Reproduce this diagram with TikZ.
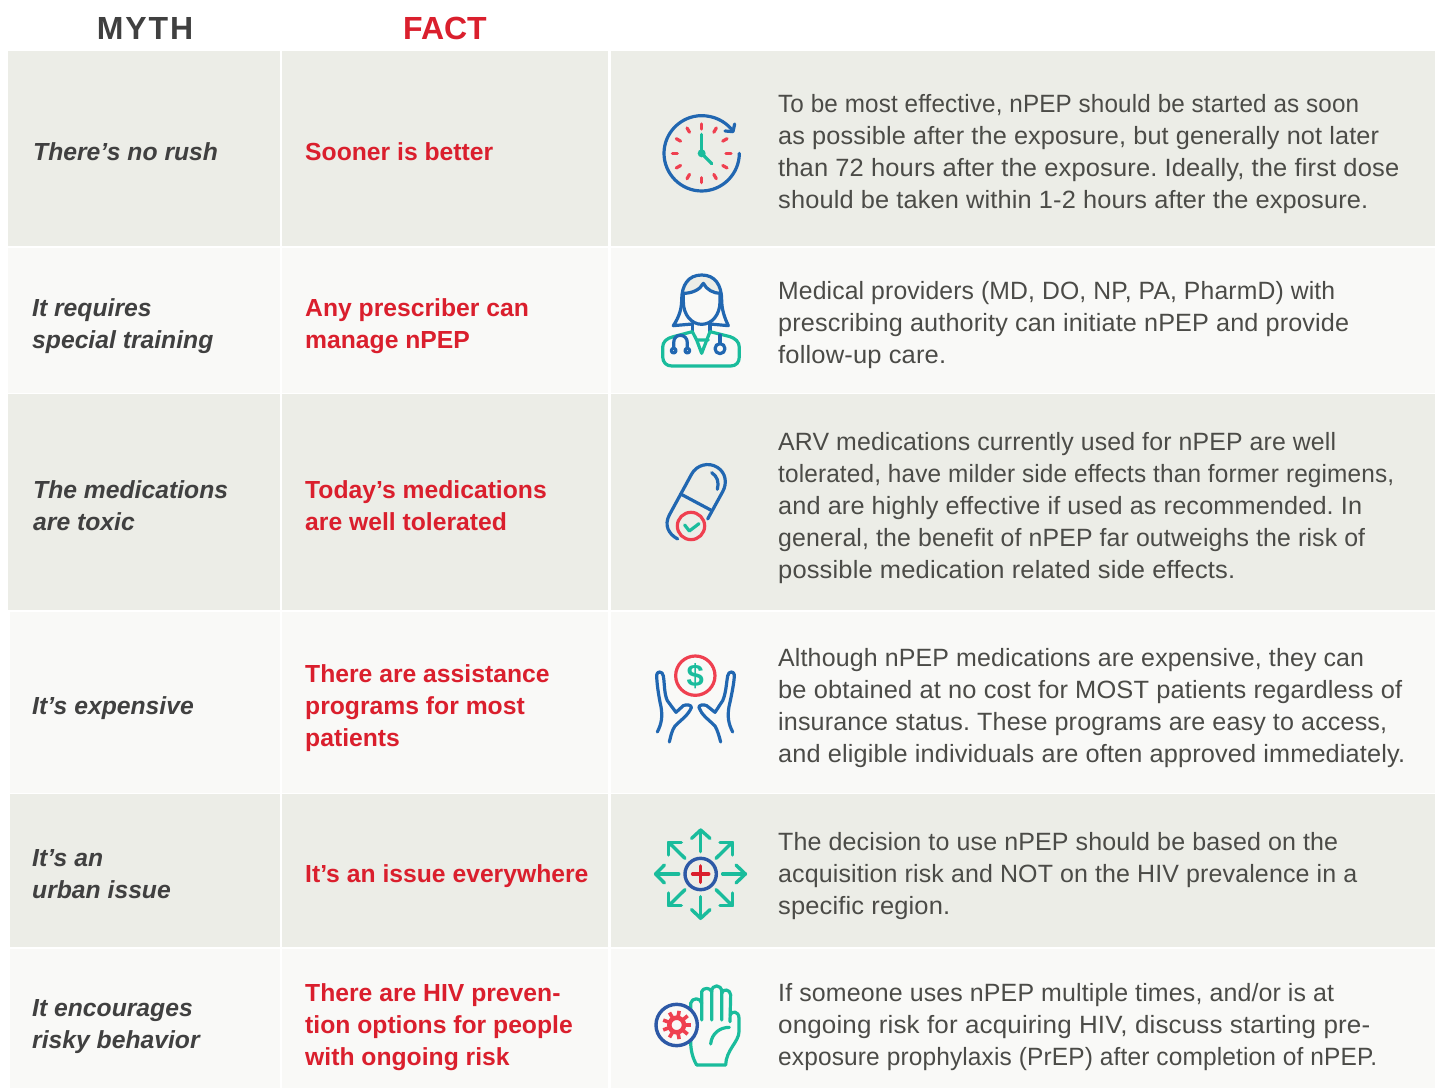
\documentclass[tikz,border=0pt]{standalone}
\usepackage{graphicx}
\usepackage{fontspec}
\setmainfont{Liberation Sans}
\newfontfamily\bodyfont[LetterSpace=0.6]{Liberation Sans}
\newfontfamily\headfont{Liberation Sans}
\newfontfamily\mythhead[LetterSpace=6]{Liberation Sans}
\newdimen\lnwd
\newcommand{\bl}[2]{\lnwd=#1pt\advance\lnwd by -778pt\resizebox{\lnwd}{\height}{\frenchspacing #2}}
\definecolor{rowdark}{HTML}{ECEDE7}
\definecolor{rowlight}{HTML}{F9F9F7}
\definecolor{ink}{HTML}{404040}
\definecolor{body}{HTML}{4B4B47}
\definecolor{fact}{HTML}{DA1F2D}
\definecolor{iblue}{HTML}{2167B1}
\definecolor{iroyal}{HTML}{2D59A6}
\definecolor{iteal}{HTML}{1ABC9C}
\definecolor{ired}{HTML}{EF4050}
\tikzset{
  x=1pt,y=-1pt,
  myth/.style={anchor=west,inner sep=0pt,align=left,text=ink,font=\headfont\fontsize{24.7}{32}\selectfont\bfseries\itshape},
  facttxt/.style={anchor=west,inner sep=0pt,align=left,text=fact,font=\headfont\fontsize{24.7}{32}\selectfont\bfseries},
  bodytxt/.style={anchor=west,inner sep=0pt,align=left,text=body,font=\bodyfont\fontsize{25}{32}\selectfont},
  head/.style={anchor=center,inner sep=0pt,font=\headfont\fontsize{32}{36}\selectfont\bfseries},
  ico/.style={x=0.3333pt,y=-0.3333pt,line cap=round,line join=round,line width=3.2pt},
}
\begin{document}
\begin{tikzpicture}
\useasboundingbox (0,0) rectangle (1435,1089);
\fill[white] (0,0) rectangle (1435,1089);
% row bands
\foreach \ya/\yb/\c/\xs in {51/246/rowdark/8,248/393/rowlight/8,394/610/rowdark/8,612/793/rowlight/10,794/947/rowdark/10,949/1088/rowlight/10}{
  \fill[\c] (\xs,\ya) rectangle (280,\yb);
  \fill[\c] (282,\ya) rectangle (608,\yb);
  \fill[\c] (611,\ya) rectangle (1435,\yb);
}
% headings
\node[head,text=ink,font=\mythhead\fontsize{32}{36}\selectfont\bfseries] (hmyth) at (145,28) {MYTH};
\node[head,text=fact] (hfact) at (445,28) {FACT};
% row 1
\node[myth] (m1) at (33,152) {There’s no rush};
\node[facttxt] (f1) at (305,152) {Sooner is better};
\node[bodytxt] (b1) at (778,154) {\bl{1359}{To be most effective, nPEP should be started as soon}\\\bl{1379}{as possible after the exposure, but generally not later}\\\bl{1399}{than 72 hours after the exposure. Ideally, the first dose}\\\bl{1368}{should be taken within 1-2 hours after the exposure.}};
% row 2
\node[myth] (m2) at (32,326) {It requires\\special training};
\node[facttxt] (f2) at (305,326) {Any prescriber can\\manage nPEP};
\node[bodytxt] (b2) at (778,325) {\bl{1335}{Medical providers (MD, DO, NP, PA, PharmD) with}\\\bl{1349}{prescribing authority can initiate nPEP and provide}\\\bl{946}{follow-up care.}};
% row 3
\node[myth] (m3) at (33,506) {The medications\\are toxic};
\node[facttxt] (f3) at (305,506) {Today’s medications\\are well tolerated};
\node[bodytxt] (b3) at (778,508) {\bl{1336}{ARV medications currently used for nPEP are well}\\\bl{1394}{tolerated, have milder side effects than former regimens,}\\\bl{1362}{and are highly effective if used as recommended. In}\\\bl{1365}{general, the benefit of nPEP far outweighs the risk of}\\\bl{1235}{possible medication related side effects.}};
% row 4
\node[myth] (m4) at (32,708) {It’s expensive};
\node[facttxt] (f4) at (305,708) {There are assistance\\programs for most\\patients};
\node[bodytxt] (b4) at (778,708) {\bl{1364}{Although nPEP medications are expensive, they can}\\\bl{1402}{be obtained at no cost for MOST patients regardless of}\\\bl{1387}{insurance status. These programs are easy to access,}\\\bl{1405}{and eligible individuals are often approved immediately.}};
% row 5
\node[myth] (m5) at (32,874) {It’s an\\urban issue};
\node[facttxt] (f5) at (305,876) {It’s an issue everywhere};
\node[bodytxt] (b5) at (778,876) {\bl{1338}{The decision to use nPEP should be based on the}\\\bl{1357}{acquisition risk and NOT on the HIV prevalence in a}\\\bl{950}{specific region.}};
% row 6
\node[myth] (m6) at (32,1027) {It encourages\\risky behavior};
\node[facttxt] (f6) at (305,1027) {There are HIV preven-\\tion options for people\\with ongoing risk};
\node[bodytxt] (b6) at (778,1027) {\bl{1334}{If someone uses nPEP multiple times, and/or is at}\\\bl{1370}{ongoing risk for acquiring HIV, discuss starting pre-}\\\bl{1377}{exposure prophylaxis (PrEP) after completion of nPEP.}};
% clock icon
\begin{scope}[shift={(640,90)},ico]
  \draw[iblue] (298,190) .. controls (298,252) and (247,303) .. (185,303) .. controls (123,303) and (72,252) .. (72,190) .. controls (72,128) and (123,77) .. (185,77) .. controls (220,77) and (255,92) .. (278,122);
  \draw[iblue] (284,102) -- (279,125) -- (255,123);
  \foreach \a in {0,30,...,330}
    \draw[ired] ({185+73*cos(\a)},{190+73*sin(\a)}) -- ({185+88*cos(\a)},{190+88*sin(\a)});
  \draw[iteal] (185,190) -- (185,133);
  \draw[iteal] (185,190) -- (215,221);
  \fill[iteal] (185,190) circle[radius=12];
\end{scope}
% doctor icon
\begin{scope}[shift={(640,260)},ico]
  \fill[rowdark] (130,100) .. controls (135,65) and (160,48) .. (185,48) .. controls (215,48) and (238,70) .. (240,100) .. controls (222,100) and (200,90) .. (190,70) .. controls (180,90) and (155,100) .. (130,100) -- cycle;
  \draw[iblue] (157,192) -- (100,197) .. controls (118,170) and (125,145) .. (125,120) .. controls (125,75) and (145,45) .. (185,45) .. controls (225,45) and (245,75) .. (245,120) .. controls (245,145) and (252,170) .. (265,197) -- (210,192);
  \draw[iblue] (130,125) .. controls (130,165) and (155,193) .. (185,193) .. controls (215,193) and (240,165) .. (240,125) -- (240,100) .. controls (222,100) and (200,90) .. (190,70) .. controls (180,90) and (155,100) .. (130,100) -- cycle;
  \draw[iblue] (157,190) -- (157,215);
  \draw[iblue] (210,190) -- (210,215);
  \draw[iteal] (157,215) -- (100,230) .. controls (80,235) and (68,245) .. (68,262) -- (68,290) .. controls (68,308) and (80,318) .. (95,318) -- (272,318) .. controls (288,318) and (298,308) .. (298,290) -- (298,262) .. controls (298,245) and (285,235) .. (270,230) -- (210,215);
  \draw[iteal] (170,240) -- (185,280) -- (210,215);
  \draw[iteal] (157,215) -- (170,240) -- (205,240);
  \draw[iblue] (101,265) -- (101,248) .. controls (101,232) and (112,226) .. (121,226) .. controls (132,226) and (142,234) .. (142,248) -- (142,265);
  \draw[iblue] (101,272) circle[radius=7];
  \draw[iblue] (142,272) circle[radius=7];
  \draw[iblue] (240,225) -- (240,250);
  \draw[iblue] (240,266) circle[radius=15];
\end{scope}
% pill icon
\begin{scope}[shift={(640,450)},ico]
  \draw[iblue] (113,267) .. controls (85,252) and (72,225) .. (88,195) -- (155,72) .. controls (170,45) and (205,35) .. (232,52) .. controls (258,68) and (262,100) .. (248,125) -- (203,207);
  \draw[iblue] (122,132) -- (212,180);
  \draw[iblue] (215,68) .. controls (232,78) and (238,98) .. (232,118);
  \draw[ired] (153,228) circle[radius=41];
  \draw[iteal] (134,225) -- (148,243) -- (177,221);
\end{scope}
% hands and dollar icon
\begin{scope}[shift={(640,640)},ico]
  \draw[ired] (166,107) circle[radius=59];
  \node[inner sep=0pt,text=iteal,font=\headfont\fontsize{31}{33}\selectfont\bfseries] (dollar) at (166,107) {\$};
  \draw[iblue] (52,276) .. controls (65,250) and (68,230) .. (63,200) .. controls (55,165) and (50,125) .. (50,105) .. controls (50,93) and (68,92) .. (70,108) .. controls (74,130) and (72,160) .. (82,182) -- (108,217) -- (130,197) .. controls (140,192) and (155,195) .. (154,203) .. controls (145,225) and (125,238) .. (105,258) .. controls (95,272) and (92,290) .. (88,306);
  \draw[iblue] (278,276) .. controls (265,250) and (262,230) .. (267,200) .. controls (275,165) and (283,125) .. (283,105) .. controls (283,93) and (265,92) .. (263,108) .. controls (259,130) and (258,160) .. (248,182) -- (225,217) -- (200,197) .. controls (190,192) and (175,195) .. (177,203) .. controls (185,225) and (205,238) .. (225,258) .. controls (233,272) and (238,290) .. (242,306);
\end{scope}
% arrows icon
\begin{scope}[shift={(640,815)},ico]
  \draw[iroyal,line width=3.4pt] (182,177) circle[radius=47];
  \draw[fact,line width=3.6pt] (158,177) -- (206,177) (182,153) -- (182,202);
  \foreach \p/\q/\r/\s/\t/\u/\v/\w in {
    182/110/182/45/155/70/210/70,
    182/245/182/310/155/284/210/284,
    248/177/316/177/288/150/288/204,
    116/177/47/177/73/150/73/204,
    228/130/277/82/240/82/277/120,
    135/130/86/82/124/82/86/120,
    228/224/277/272/240/272/277/234,
    135/224/86/272/124/272/86/234}{
    \draw[iteal,line width=3.4pt] (\p,\q) -- (\r,\s);
    \draw[iteal,line width=3.4pt] (\t,\u) -- (\r,\s) -- (\v,\w);
  }
\end{scope}
% stop hand and gear icon
\begin{scope}[shift={(640,970)},ico]
  \draw[iteal] (170,285) .. controls (158,265) and (152,240) .. (152,215) -- (152,100) .. controls (155,82) and (183,82) .. (185,100) -- (185,150);
  \draw[iteal] (185,100) -- (185,65) .. controls (188,52) and (212,52) .. (215,65) -- (215,150);
  \draw[iteal] (215,65) .. controls (215,42) and (245,42) .. (245,65) -- (245,150);
  \draw[iteal] (245,70) .. controls (247,55) and (272,57) .. (272,75) -- (270,155);
  \draw[iteal] (270,135) .. controls (275,122) and (297,122) .. (297,145) -- (297,185) .. controls (297,215) and (258,240) .. (257,285) -- (170,285);
  \draw[iteal] (212,222) .. controls (215,190) and (240,172) .. (268,172);
  \draw[iroyal,fill=rowlight,line width=3.4pt] (110,165) circle[radius=62];
  \foreach \a in {0,40,...,320}
    \draw[ired,line width=3.6pt,line cap=butt] ({110+22*cos(\a)},{165+22*sin(\a)}) -- ({110+43*cos(\a)},{165+43*sin(\a)});
  \draw[ired,line width=4.5pt] (110,165) circle[radius=22];
\end{scope}
\end{tikzpicture}
\end{document}
